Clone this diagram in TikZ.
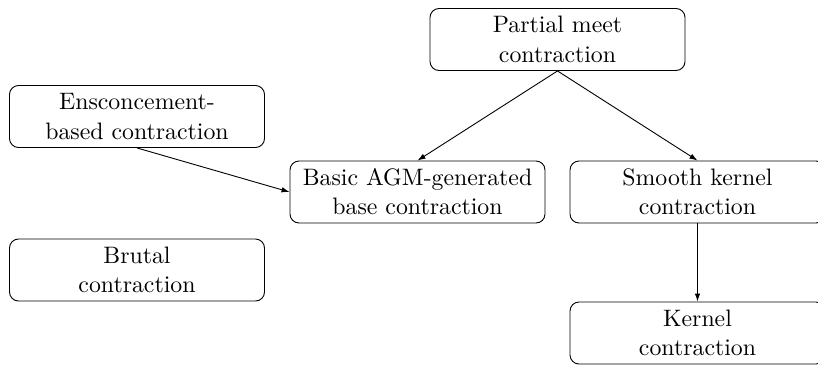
\documentclass[tikz,border=0pt]{standalone}
\usetikzlibrary{arrows.meta}
\newcommand{\lbl}[2]{\scalebox{2.38}{\fontsize{10}{12}\selectfont\renewcommand{\arraystretch}{1.02}\raisebox{-0.9pt}[\height][\depth]{\begin{tabular}{@{}c@{}}#1\\#2\end{tabular}}}}
\begin{document}
\begin{tikzpicture}[x=1pt,y=-1pt,
  box/.style={draw,rounded corners=9pt,line width=0.9pt,minimum width=255pt,minimum height=62pt,align=center,inner sep=0pt},
  arr/.style={-{Latex[length=8pt,width=5.5pt]},line width=0.9pt}]
\useasboundingbox (0,0) rectangle (818,370);
\node[box] (pm) at (557.5,39.5) {\lbl{Partial meet}{contraction}};
\node[box] (ens) at (137,116.5) {\lbl{Ensconcement-}{based contraction}};
\node[box] (agm) at (417.5,192) {\lbl{Basic AGM-generated}{base contraction}};
\node[box] (sk) at (697.5,192) {\lbl{Smooth kernel}{contraction}};
\node[box] (br) at (137,270) {\lbl{Brutal}{contraction}};
\node[box] (k) at (697.5,333) {\lbl{Kernel}{contraction}};
\draw[arr] (pm.south) -- (agm.north);
\draw[arr] (pm.south) -- (sk.north);
\draw[arr] (ens.south) -- (agm.west);
\draw[arr] (sk.south) -- (k.north);
\end{tikzpicture}
\end{document}
